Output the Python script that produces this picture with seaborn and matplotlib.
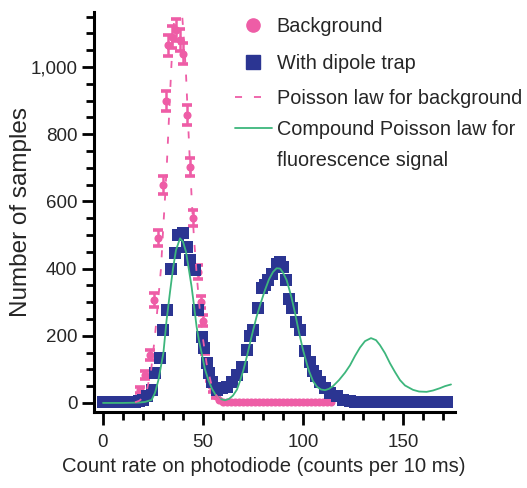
import matplotlib
matplotlib.use("Agg")
import matplotlib.pyplot as plt
import seaborn as sns
import numpy as np
from matplotlib.lines import Line2D
from matplotlib.ticker import MultipleLocator, FuncFormatter

# ---------------- data ----------------
bg_counts = [0, 2, 4, 6, 8, 10, 12, 14, 16, 18.5, 21, 23.5, 25.3, 27.5, 29.8, 31.5,
             32.7, 34.7, 36.5, 38.3, 40.2, 41.8, 43.3, 45.2, 47.5, 49, 50, 51, 52,
             53.5, 55, 56.5, 58, 60, 62, 64, 66, 68, 70, 72, 74, 76, 78, 80, 82, 84,
             86, 88, 90, 92, 94, 96, 98, 100, 102, 104, 106, 108, 110, 112, 114]
bg_values = [0, 0, 0, 0, 0, 0, 1, 3, 8, 39, 83, 143, 307, 490, 649, 900,
             1065, 1090, 1110, 1080, 1040, 857, 703, 550, 390, 300, 245, 160, 120,
             75, 40, 20, 10, 2, 2, 2, 2, 2, 2, 2, 2, 2, 2, 2, 2, 2,
             2, 2, 2, 2, 2, 2, 2, 2, 2, 2, 2, 2, 2, 2, 2]
bg_errors = [0, 0, 0, 0, 0, 0, 0, 0, 0, 8, 12, 15, 20, 24, 26, 30,
             32, 32, 33, 32, 32, 29, 26, 24, 20, 18, 16, 13, 11,
             9, 7, 5, 0, 0, 0, 0, 0, 0, 0, 0, 0, 0, 0, 0, 0, 0,
             0, 0, 0, 0, 0, 0, 0, 0, 0, 0, 0, 0, 0, 0, 0]

trap_counts = [0, 2, 4, 6, 8, 10, 12, 14, 16, 18, 20, 22, 24.3, 26, 28.3, 30, 31.8,
               33.8, 35.8, 37.7, 40, 41.8, 43.5, 46, 47.7, 49.3, 50.5, 51.8, 53,
               54.3, 56.8, 59.3, 61.8, 64.3, 66.8, 69.3, 71.8, 73.5, 75, 77.5, 79.3,
               81, 82.7, 84.5, 86.8, 88.5, 90, 91.5, 93, 94.5, 96.5, 98.5, 101,
               103.5, 105, 106.5, 108.5, 111, 113.5, 117, 120, 123.5, 126, 128, 130,
               132, 134, 136, 138, 140, 142, 144, 146, 148, 150, 152, 154, 156, 158,
               160, 162, 164, 166, 168, 170, 172]
trap_values = [3, 3, 3, 3, 3, 3, 3, 3, 4, 5, 8, 20, 39, 89, 134, 217, 277,
               400, 446, 500, 506, 464, 426, 396, 277, 196, 165, 120, 90,
               63, 39, 45, 48, 62, 83, 107, 158, 200, 217, 283, 341,
               351, 366, 385, 414, 420, 405, 366, 310, 283, 240, 217, 155,
               123, 95, 80, 63, 45, 30, 20, 10, 6, 3, 3, 3,
               3, 3, 3, 3, 3, 3, 3, 3, 3, 3, 3, 3, 3, 3,
               3, 3, 3, 3, 3, 3, 3]

poisson_counts = [16, 18, 20, 22, 24, 26, 27.5, 29, 30, 31, 32, 33, 34, 35, 36.5, 38,
                  39.5, 40.5, 41.5, 42.5, 43.5, 44.5, 45.5, 47, 48.5, 50, 52, 54,
                  56, 58, 60]
poisson_values = [2, 6, 15, 40, 95, 200, 300, 400, 510, 610, 720, 850, 980, 1100,
                  1200, 1230, 1160, 1080, 980, 840, 710, 590, 490, 370, 270, 190,
                  110, 60, 28, 12, 4]

compound_counts = [0, 10, 18, 21, 24.3, 26, 27.7, 29, 30.2, 31.8, 33.5, 35, 36.5,
                   38.5, 40, 41.5, 43, 44.3, 45.5, 46.8, 48, 49.3, 51, 52.7, 54.5,
                   56.5, 58.5, 61, 63, 65, 67, 68.5, 70.2, 72, 73.5, 75, 76.8, 79,
                   81, 83, 85, 86.8, 88.5, 90, 91.8, 94, 96, 98, 100, 102, 103, 105,
                   107, 109, 111, 113, 115, 118, 121, 123.5, 126, 128.5, 131, 134,
                   136.5, 138.5, 141, 143.5, 146, 148.5, 151, 155, 158, 161.8, 165,
                   168.5, 171, 174]
compound_values = [0, 0, 1, 3, 9, 30, 68, 110, 149, 247, 330, 400, 455,
                   490, 480, 450, 395, 346, 290, 227, 185, 149, 100, 68, 42,
                   22, 12, 8, 12, 22, 40, 65, 98, 140, 178, 215, 257, 300,
                   336, 368, 390, 401, 400, 388, 366, 320, 268, 210, 158, 115, 95, 65,
                   48, 40, 38, 42, 50, 68, 90, 112, 140, 165, 184, 193,
                   187, 172, 148, 118, 92, 68, 52, 39, 34, 33, 37,
                   44, 50, 55]

labels_legend = ["Background", "With dipole trap", "Poisson law for background",
                 "Compound Poisson law for", "fluorescence signal"]

# ---------------- style ----------------
sns.set_theme(style="ticks")
plt.rcParams["font.family"] = ["Liberation Sans", "DejaVu Sans"]

PINK = "#EE5DA6"
BLUE = "#2B3592"
GREEN = "#3DB67C"
TXT = "#262626"

W, H = 527, 488
fig = plt.figure(figsize=(W / 100, H / 100), dpi=100)
ax = fig.add_axes([94 / W, 1 - 412 / H, (455 - 94) / W, (412 - 12) / H])

# background error bars
bx = np.array(bg_counts, dtype=float)
by = np.array(bg_values, dtype=float)
be = np.array(bg_errors, dtype=float)
m = be > 0
ax.errorbar(bx[m], by[m], yerr=be[m], fmt="none", ecolor=PINK, elinewidth=1.8,
            capsize=3.8, capthick=2.6, zorder=2)
sns.scatterplot(x=bg_counts, y=bg_values, color=PINK, marker="o", s=34,
                edgecolor=PINK, linewidth=0, ax=ax, zorder=3)
sns.scatterplot(x=trap_counts, y=trap_values, color=BLUE, marker="s", s=70,
                edgecolor=BLUE, linewidth=0, ax=ax, zorder=4)
sns.lineplot(x=compound_counts, y=compound_values, color=GREEN, lw=1.3,
             estimator=None, sort=False, ax=ax, zorder=5)
sns.lineplot(x=poisson_counts, y=poisson_values, color=PINK, lw=1.3,
             linestyle=(0, (3.9, 6.6)), estimator=None, sort=False, ax=ax, zorder=6)

ax.set_xlim(-4.5, 176)
ax.set_ylim(-27, 1164)

sns.despine(ax=ax)
for s in ("left", "bottom"):
    ax.spines[s].set_linewidth(2.2)
    ax.spines[s].set_color("black")

ax.xaxis.set_major_locator(MultipleLocator(50))
ax.xaxis.set_minor_locator(MultipleLocator(10))
ax.yaxis.set_major_locator(MultipleLocator(200))
ax.yaxis.set_minor_locator(MultipleLocator(50))
ax.yaxis.set_major_formatter(FuncFormatter(lambda v, p: f"{int(round(v)):,}"))
ax.tick_params(which="major", length=9, width=2.0, direction="out",
               labelsize=13.5, labelcolor=TXT, color="black", pad=3)
ax.tick_params(axis="x", which="major", pad=7)
ax.tick_params(which="minor", length=6, width=2.0, direction="out", color="black")

ax.set_xlabel("Count rate on photodiode (counts per 10 ms)", fontsize=14.6,
              color=TXT)
ax.xaxis.set_label_coords(0.471, -0.113)
ax.set_ylabel("Number of samples", fontsize=17.5, color=TXT)
ax.yaxis.set_label_coords(-0.172, 0.5)

# legend
h1 = Line2D([], [], ls="none", marker="o", color=PINK, markersize=9.5)
h2 = Line2D([], [], ls="none", marker="s", color=BLUE, markersize=10)
h3 = Line2D([], [], color=PINK, lw=1.3, ls=(0, (3.9, 6.6)))
h4 = Line2D([], [], color=GREEN, lw=1.3)
h5 = Line2D([], [], color="none", lw=0)

leg1 = ax.legend([h1, h2], labels_legend[:2], loc="upper left",
                 bbox_to_anchor=(235 / W, 1 - 17 / H), bbox_transform=fig.transFigure,
                 frameon=False, fontsize=14.3, handlelength=1.85, handletextpad=0.25,
                 borderpad=0, borderaxespad=0, labelspacing=0.9)
for t in leg1.get_texts():
    t.set_color(TXT)
ax.add_artist(leg1)
leg2 = ax.legend([h3, h4, h5], labels_legend[2:], loc="upper left",
                 bbox_to_anchor=(235 / W, 1 - 89 / H), bbox_transform=fig.transFigure,
                 frameon=False, fontsize=14.3, handlelength=1.85, handletextpad=0.25,
                 borderpad=0, borderaxespad=0, labelspacing=0.6)
for t in leg2.get_texts():
    t.set_color(TXT)

fig.savefig("out.png", dpi=100)
